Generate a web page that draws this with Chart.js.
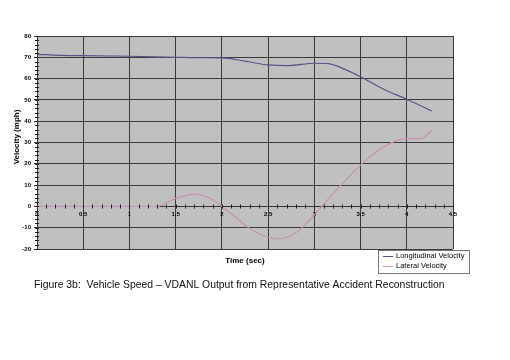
<!DOCTYPE html>
<html>
<head>
<meta charset="utf-8">
<script src="https://cdn.jsdelivr.net/npm/chart.js@4/dist/chart.umd.min.js"></script>
<style>
  html, body { margin: 0; padding: 0; background: #fff; }
  #wrap { width: 510px; height: 360px; position: relative; }
</style>
</head>
<body>
<div id="wrap"><canvas id="chart" width="510" height="360"></canvas></div>
<script>
// data
const longTime = [0, 0.25, 0.5, 1.0, 1.5, 1.75, 2.0, 2.25, 2.5, 2.72, 3.0, 3.15, 3.35, 3.5, 3.75, 4.0, 4.27];
const longVel = [71.4, 70.9, 70.8, 70.5, 70.0, 69.8, 69.7, 68.2, 66.4, 66.1, 67.2, 67.0, 64.0, 60.9, 55.0, 50.3, 44.8];

const latTime = [0, 0.5, 1.0, 1.3, 1.5, 1.73, 1.87, 2.0, 2.12, 2.27, 2.41, 2.59, 2.74, 2.88, 3.05, 3.28, 3.5, 3.69, 3.85, 4.0, 4.15, 4.27];
const latVel = [0, 0, 0, 0, 3.8, 5.8, 3.8, 0, -4, -9.5, -13, -15.3, -13.9, -9.5, -1.5, 9.6, 19.4, 26.2, 30.2, 31.8, 31.8, 35.5];

const seriesNames = ['Longitudinal Velocity', 'Lateral Velocity'];
const seriesColors = ['#55558a', '#c694b4'];
const xTitle = 'Time (sec)';
const yTitle = 'Velocity (mph)';
const caption = 'Figure 3b:  Vehicle Speed \u2013 VDANL Output from Representative Accident Reconstruction';

function toPoints(xs, ys) {
  return xs.map((x, i) => ({ x: x, y: ys[i] }));
}

const FONT = '"Liberation Sans", Arial, sans-serif';

// grey plot background, minor ticks, titles, legend box and caption
const decor = {
  id: 'decor',
  beforeDraw(chart) {
    const { ctx, chartArea: a } = chart;
    ctx.save();
    ctx.fillStyle = '#c0c0c0';
    ctx.fillRect(a.left, a.top, a.right - a.left, a.bottom - a.top);
    ctx.restore();
  },
  afterDatasetsDraw(chart) {
    const { ctx, chartArea: a, scales } = chart;
    const xs = scales.x, ys = scales.y;
    ctx.save();
    ctx.strokeStyle = '#222';
    ctx.lineWidth = 1;
    // minor ticks on the zero line
    const y0 = Math.round(ys.getPixelForValue(0)) + 0.5;
    for (let i = 1; i <= 45; i++) {
      const px = Math.round(xs.getPixelForValue(i / 10)) + 0.5;
      ctx.beginPath();
      ctx.moveTo(px, y0 - 2);
      ctx.lineTo(px, y0 + 2);
      ctx.stroke();
    }
    // minor ticks on the value axis
    for (let v = -20; v <= 80; v += 2) {
      const py = Math.round(ys.getPixelForValue(v)) + 0.5;
      ctx.beginPath();
      ctx.moveTo(a.left - 2, py);
      ctx.lineTo(a.left + 2, py);
      ctx.stroke();
    }

    // axis titles
    ctx.fillStyle = '#000';
    ctx.font = 'bold 8px ' + FONT;
    ctx.textAlign = 'center';
    ctx.textBaseline = 'middle';
    ctx.fillText(xTitle, 245, 261);
    ctx.save();
    ctx.translate(17, 137);
    ctx.rotate(-Math.PI / 2);
    ctx.fillText(yTitle, 0, 0);
    ctx.restore();

    // legend
    ctx.fillStyle = '#fff';
    ctx.fillRect(378, 250, 91, 23);
    ctx.strokeStyle = '#777';
    ctx.strokeRect(378.5, 250.5, 91, 23);
    ctx.font = '7.5px ' + FONT;
    ctx.textAlign = 'left';
    seriesNames.forEach((name, i) => {
      const yy = 256 + i * 10;
      ctx.strokeStyle = seriesColors[i];
      ctx.beginPath();
      ctx.moveTo(383, yy + 0.5);
      ctx.lineTo(393, yy + 0.5);
      ctx.stroke();
      ctx.fillStyle = '#000';
      ctx.fillText(name, 396, yy);
    });

    // caption
    ctx.font = '10.4px ' + FONT;
    ctx.textBaseline = 'alphabetic';
    ctx.fillStyle = '#111';
    ctx.fillText(caption, 34, 288);
    ctx.restore();
  }
};

new Chart(document.getElementById('chart'), {
  type: 'line',
  data: {
    datasets: [
      {
        label: seriesNames[0],
        data: toPoints(longTime, longVel),
        borderColor: seriesColors[0],
        borderWidth: 1.2,
        pointRadius: 0,
        cubicInterpolationMode: 'monotone'
      },
      {
        label: seriesNames[1],
        data: toPoints(latTime, latVel),
        borderColor: seriesColors[1],
        borderWidth: 1.2,
        pointRadius: 0,
        cubicInterpolationMode: 'monotone'
      }
    ]
  },
  options: {
    responsive: false,
    animation: false,
    layout: { padding: { left: 0, top: 36, right: 57, bottom: 111 } },
    plugins: {
      legend: { display: false },
      tooltip: { enabled: false }
    },
    scales: {
      x: {
        type: 'linear',
        min: 0,
        max: 4.5,
        position: { y: 0 },
        ticks: {
          stepSize: 0.5,
          color: '#000',
          font: { size: 6, weight: 'bold', family: FONT },
          padding: 1,
          maxRotation: 0,
          callback: (v) => String(Math.round(v * 10) / 10)
        },
        grid: { color: '#3a3a3a', lineWidth: 1, tickLength: 3 },
        border: { color: '#333' }
      },
      y: {
        min: -20,
        max: 80,
        ticks: {
          stepSize: 10,
          color: '#000',
          font: { size: 6, weight: 'bold', family: FONT },
          padding: 3
        },
        grid: { color: '#3a3a3a', lineWidth: 1, tickLength: 3 },
        border: { color: '#333' },
        afterFit(scale) { scale.width = 37; }
      }
    }
  },
  plugins: [decor]
});
</script>
</body>
</html>
